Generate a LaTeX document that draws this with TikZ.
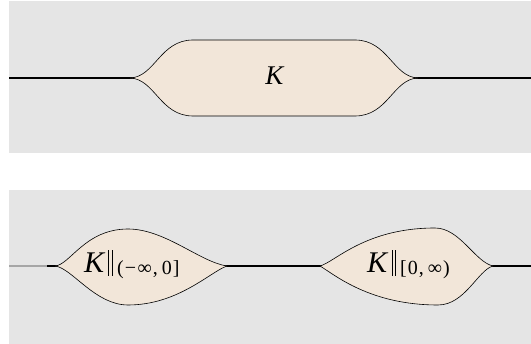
\documentclass[tikz,border=0pt]{standalone}
\usepackage{fontspec}
\setmainfont{Liberation Serif}
\definecolor{panelgray}{HTML}{E5E5E5}
\definecolor{blobfill}{HTML}{F2E6D9}
\newcommand{\topfs}{\fontsize{27}{30}\selectfont}
\newcommand{\bigfs}{\fontsize{30}{33}\selectfont}
\newcommand{\subfs}{\fontsize{20}{22}\selectfont}
\newcommand{\dbar}{\kern3pt\rule[-3pt]{0.9pt}{26pt}\kern2.4pt\rule[-3pt]{0.9pt}{26pt}\kern4.5pt}
\tikzset{
  panel/.style={fill=panelgray,draw=none},
  wire/.style={draw=black,line width=1.1pt},
  blob/.style={fill=blobfill,draw=black,line width=0.6pt},
  toplab/.style={anchor=base,inner sep=0pt,font=\topfs},
  lab/.style={anchor=base west,inner sep=0pt,font=\bigfs}
}
\begin{document}
\begin{tikzpicture}[x=1pt,y=-1pt]
\useasboundingbox (0,0) rectangle (531,344);
% panels
\path[panel] (9,1) rectangle (531,153);
\path[panel] (9,190) rectangle (531,344);
% top wire and blob
\coordinate (tl) at (9,78);
\coordinate (tr) at (531,78);
\draw[wire] (tl) -- (tr);
\path[blob] (130,78) .. controls (155,77) and (160,40) .. (193,40)
  -- (355,40) .. controls (388,40) and (393,77) .. (418,78)
  .. controls (393,79) and (388,116) .. (355,116)
  -- (193,116) .. controls (160,116) and (155,79) .. (130,78) -- cycle;
\node[toplab] (k) at (275,85) {\textit{K}};
% bottom wire
\coordinate (bl) at (9,266);
\coordinate (bm) at (47,266);
\coordinate (br) at (531,266);
\draw[draw=gray!70,line width=1.1pt] (bl) -- (bm);
\draw[wire] (bm) -- (br);
% blob 1
\path[blob] (55,266) .. controls (70,265) and (85,229) .. (128,229)
  .. controls (165,229) and (200,262) .. (227,266)
  .. controls (210,272) and (178,305) .. (128,305)
  .. controls (95,305) and (72,268) .. (55,266) -- cycle;
% blob 2
\path[blob] (320,266) .. controls (335,262) and (365,228) .. (435,228)
  .. controls (460,228) and (475,262) .. (493,266)
  .. controls (478,270) and (465,305) .. (438,305)
  .. controls (370,305) and (335,275) .. (320,266) -- cycle;
\node[lab] (k1) at (84,273) {\textit{K}\dbar\raisebox{-1.5pt}{\subfs(\kern1pt−\kern1.5pt∞\kern1pt,\kern4pt0\kern1pt]}};
\node[lab] (k2) at (367,273) {\textit{K}\dbar\raisebox{-1.5pt}{\subfs[\kern1pt0\kern1pt,\kern4pt∞\kern1pt)}};
\end{tikzpicture}
\end{document}
